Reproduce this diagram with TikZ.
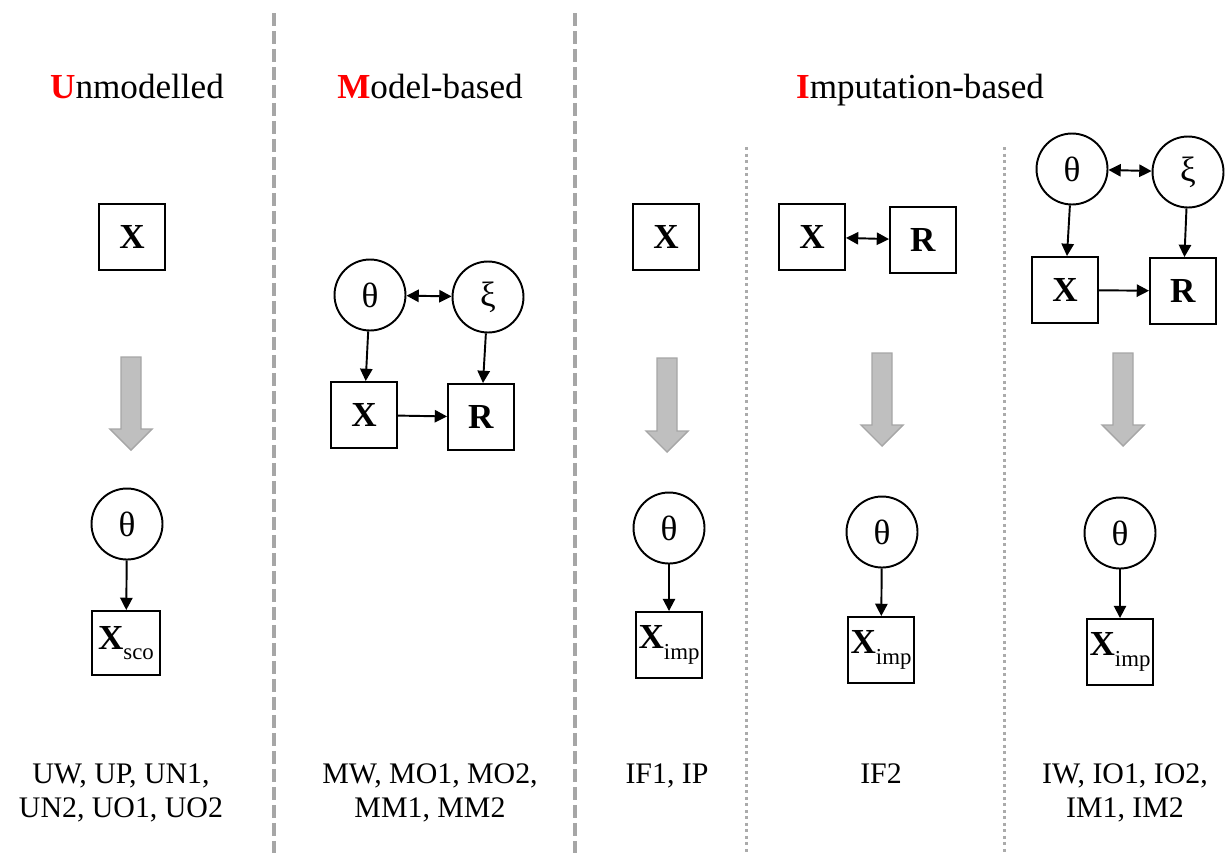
\documentclass[tikz,border=0pt]{standalone}
\usepackage{fontspec}
\setmainfont{Liberation Serif}
\usetikzlibrary{arrows.meta}

\newcommand{\Xsub}[1]{\textbf{X}\raisebox{-0.3em}{\fontsize{13}{13}\selectfont #1}}

\begin{document}
\begin{tikzpicture}[
  x=0.02cm, y=-0.02cm,
  line width=1.1pt,
  >={Triangle[length=7pt,width=7pt]},
  data box/.style={
    rectangle,
    fill=white,
    draw=black,
    minimum size=13.2mm,
    inner sep=0pt,
    font=\fontsize{20}{24}\selectfont
  },
  param circle/.style={
    circle,
    fill=white,
    draw=black,
    minimum size=14.2mm,
    inner sep=0pt,
    font=\fontsize{20}{24}\selectfont
  },
  title/.style={
    anchor=base,
    inner sep=0pt,
    font=\fontsize{20}{24}\selectfont
  },
  method list/.style={
    anchor=north,
    inner sep=0pt,
    align=center,
    font=\fontsize{17}{19}\selectfont
  },
  group sep/.style={
    draw=black!35,
    line width=2.3pt,
    dash pattern=on 0.26cm off 0.1cm
  },
  sub sep/.style={
    draw=black!33,
    line width=1.7pt,
    dash pattern=on 0.06cm off 0.07cm
  },
  flow arrow/.style={
    fill=black!25,
    draw=black!35,
    line width=0.8pt
  }
  ]
\useasboundingbox (0,0) rectangle (1229,853);
% separators
\coordinate (sep model top) at (274,13);
\coordinate (sep model bottom) at (274,853);
\coordinate (sep imp top) at (575,13);
\coordinate (sep imp bottom) at (575,853);
\coordinate (sep if top) at (746,147);
\coordinate (sep if bottom) at (746,853);
\coordinate (sep iw top) at (1004,147);
\coordinate (sep iw bottom) at (1004,853);
\draw [group sep] (sep model top) -- (sep model bottom);
\draw [group sep] (sep imp top) -- (sep imp bottom);
\draw [sub sep] (sep if top) -- (sep if bottom);
\draw [sub sep] (sep iw top) -- (sep iw bottom);
% Titles
\node [title] (title unmodelled) at (137,98) {\textcolor{red}{\textbf{U}}nmodelled};
\node [title] (title model) at (430,98) {\textcolor{red}{\textbf{M}}odel-based};
\node [title] (title imputation) at (920,98) {\textcolor{red}{\textbf{I}}mputation-based};
% big grey arrows
\foreach \x/\t/\b in {131/357/450, 667/358/452, 882/353/446, 1123/353/446}
  \draw [flow arrow] (\x-10,\t) -- (\x+10,\t) -- (\x+10,\b-21) -- (\x+21,\b-21)
    -- (\x,\b) -- (\x-21,\b-21) -- (\x-10,\b-21) -- cycle;
% Unmodelled
\node [data box] (un x) at (132,237) {\textbf{X}};
\node [param circle] (un theta) at (127,524) {θ};
\node [data box, minimum height=12.8mm, minimum width=13.6mm] (un xsco) at (126,643) {\Xsub{sco}};
\draw [->] (un theta) -- (un xsco);
% Model-based
\node [param circle] (mb theta) at (370,295) {θ};
\node [param circle] (mb xi) at (488,297) {ξ};
\node [data box] (mb x) at (364,415) {\textbf{X}};
\node [data box] (mb r) at (481,417) {\textbf{R}};
\draw [<->] (mb theta) -- (mb xi);
\draw [->] (mb theta) -- (mb x);
\draw [->] (mb xi) -- (mb r);
\draw [->] (mb x) -- (mb r);
% Imputation-based, IF1 / IP
\node [data box] (if x) at (666,237) {\textbf{X}};
\node [param circle] (if theta) at (669,528) {θ};
\node [data box] (if ximp) at (669,645) {\Xsub{imp}};
\draw [->] (if theta) -- (if ximp);
% Imputation-based, IF2
\node [data box] (ifb x) at (812,237) {\textbf{X}};
\node [data box] (ifb r) at (923,240) {\textbf{R}};
\draw [<->] (ifb x) -- (ifb r);
\node [param circle] (ifb theta) at (882,532) {θ};
\node [data box] (ifb ximp) at (881,650) {\Xsub{imp}};
\draw [->] (ifb theta) -- (ifb ximp);
% Imputation-based, IW / IO / IM
\node [param circle] (iw theta) at (1072,169) {θ};
\node [param circle] (iw xi) at (1188,172) {ξ};
\node [data box] (iw x) at (1065,290) {\textbf{X}};
\node [data box] (iw r) at (1183,291) {\textbf{R}};
\draw [<->] (iw theta) -- (iw xi);
\draw [->] (iw theta) -- (iw x);
\draw [->] (iw xi) -- (iw r);
\draw [->] (iw x) -- (iw r);
\node [param circle] (iw theta imp) at (1120,533) {θ};
\node [data box] (iw ximp) at (1120,652) {\Xsub{imp}};
\draw [->] (iw theta imp) -- (iw ximp);
% method lists
\node [method list] (list un) at (121,763) {UW, UP, UN1,\\ UN2, UO1, UO2};
\node [method list] (list mb) at (430,763) {MW, MO1, MO2,\\ MM1, MM2};
\node [method list] (list if) at (667,763) {IF1, IP};
\node [method list] (list ifb) at (881,763) {IF2};
\node [method list] (list iw) at (1125,763) {IW, IO1, IO2,\\ IM1, IM2};
\end{tikzpicture}
\end{document}
